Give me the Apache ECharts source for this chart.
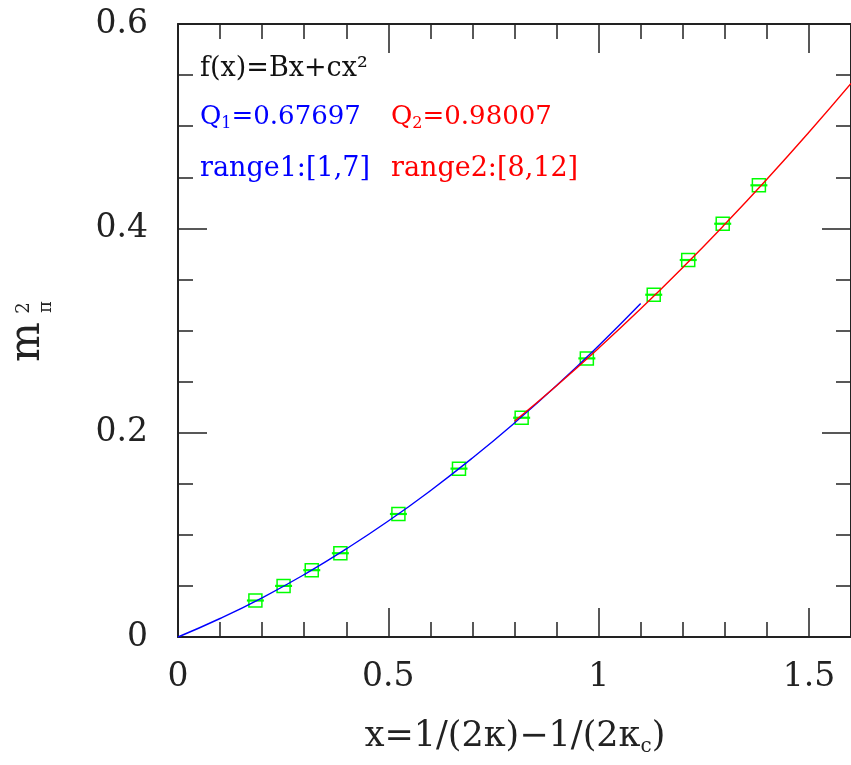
<!DOCTYPE html>
<html>
<head>
<meta charset="utf-8">
<script src="https://cdn.jsdelivr.net/npm/echarts@6/dist/echarts.min.js"></script>
<style>
  html, body { margin: 0; padding: 0; background: #fff; }
  #main { width: 851px; height: 765px; }
</style>
</head>
<body>
<div id="main"></div>
<script>
// measured points (x = 1/(2k) - 1/(2kc), y = m_pi^2)
const pointX = [0.184, 0.251, 0.318, 0.386, 0.524, 0.668, 0.817, 0.972, 1.131, 1.213, 1.295, 1.381]
const pointY = [0.0357, 0.0500, 0.0654, 0.0820, 0.1204, 0.1648, 0.2146, 0.2727, 0.3350, 0.3690, 0.4045, 0.4421]

// fit 1 (blue)
const fit1X = [0, 0.1, 0.2, 0.3, 0.4, 0.5, 0.6, 0.7, 0.8, 0.9, 1.0, 1.1]
const fit1Y = [0, 0.0181, 0.0384, 0.0611, 0.0862, 0.1135, 0.1432, 0.1752, 0.2095, 0.2461, 0.2851, 0.3264]

// fit 2 (red)
const fit2X = [0.8, 0.9, 1.0, 1.1, 1.2, 1.3, 1.4, 1.5, 1.6]
const fit2Y = [0.2112, 0.2460, 0.2827, 0.3212, 0.3616, 0.4039, 0.4480, 0.4940, 0.5418]

const FONT = 'DejaVu Serif'
const chart = echarts.init(document.getElementById('main'))

const frameAxis = {
  axisLine: { show: true, onZero: false, lineStyle: { color: '#222', width: 2 } },
  axisTick: { show: true, inside: true, length: 29, lineStyle: { color: '#222', width: 1.5 } },
  minorTick: { show: true, length: 15, lineStyle: { color: '#222', width: 1.5 } },
  splitLine: { show: false },
}

chart.setOption({
  animation: false,
  grid: { left: 178, top: 24, right: -4, bottom: 128 },
  xAxis: [
    {
      ...frameAxis,
      type: 'value', min: 0, max: 1.6, interval: 0.5,
      minorTick: { ...frameAxis.minorTick, splitNumber: 5 },
      axisLabel: {
        margin: 24, showMaxLabel: false,
        fontFamily: FONT, fontSize: 33, color: '#222',
      },
    },
    {
      ...frameAxis,
      type: 'value', min: 0, max: 1.6, interval: 0.5, position: 'top',
      minorTick: { ...frameAxis.minorTick, splitNumber: 5 },
      axisLabel: { show: false },
    },
  ],
  yAxis: [
    {
      ...frameAxis,
      type: 'value', min: 0, max: 0.6, interval: 0.2,
      minorTick: { ...frameAxis.minorTick, splitNumber: 4 },
      axisLabel: { margin: 30, fontFamily: FONT, fontSize: 33, color: '#222' },
    },
    {
      ...frameAxis,
      type: 'value', min: 0, max: 0.6, interval: 0.2, position: 'right',
      minorTick: { ...frameAxis.minorTick, splitNumber: 4 },
      axisLabel: { show: false },
    },
  ],
  series: [
    {
      name: 'data',
      type: 'custom',
      data: pointX.map((x, i) => [x, pointY[i]]),
      z: 2,
      renderItem(params, api) {
        const p = api.coord([api.value(0), api.value(1)])
        return {
          type: 'group',
          children: [
            {
              type: 'rect',
              shape: { x: p[0] - 6.5, y: p[1] - 6.5, width: 13, height: 13 },
              style: { fill: 'none', stroke: '#00ff00', lineWidth: 1.5 },
            },
            {
              type: 'line',
              shape: { x1: p[0] - 8.5, y1: p[1], x2: p[0] + 8.5, y2: p[1] },
              style: { stroke: '#00ff00', lineWidth: 2.2 },
            },
          ],
        }
      },
    },
    {
      name: 'fit1',
      type: 'line',
      data: fit1X.map((x, i) => [x, fit1Y[i]]),
      smooth: true, showSymbol: false, z: 3,
      lineStyle: { color: '#0000ff', width: 1.4 },
    },
    {
      name: 'fit2',
      type: 'line',
      data: fit2X.map((x, i) => [x, fit2Y[i]]),
      smooth: true, showSymbol: false, z: 4,
      lineStyle: { color: '#ff0000', width: 1.4 },
    },
  ],
  graphic: [
    {
      type: 'text', x: 200, y: 69,
      style: { text: 'f(x)=Bx+cx²', font: `27px "${FONT}"`, fill: '#111', verticalAlign: 'middle' },
    },
    {
      type: 'text', x: 200, y: 117,
      style: {
        text: '{a|Q}{s|1}{a|=0.67697}', verticalAlign: 'middle', fill: '#0000ff',
        rich: {
          a: { fontFamily: FONT, fontSize: 26, lineHeight: 30, fill: '#0000ff' },
          s: { fontFamily: FONT, fontSize: 16, lineHeight: 14, verticalAlign: 'bottom', fill: '#0000ff' },
        },
      },
    },
    {
      type: 'text', x: 391, y: 117,
      style: {
        text: '{a|Q}{s|2}{a|=0.98007}', verticalAlign: 'middle', fill: '#ff0000',
        rich: {
          a: { fontFamily: FONT, fontSize: 26, lineHeight: 30, fill: '#ff0000' },
          s: { fontFamily: FONT, fontSize: 16, lineHeight: 14, verticalAlign: 'bottom', fill: '#ff0000' },
        },
      },
    },
    {
      type: 'text', x: 200, y: 169,
      style: { text: 'range1:[1,7]', font: `27px "${FONT}"`, fill: '#0000ff', verticalAlign: 'middle' },
    },
    {
      type: 'text', x: 391, y: 169,
      style: { text: 'range2:[8,12]', font: `27px "${FONT}"`, fill: '#ff0000', verticalAlign: 'middle' },
    },
    // x axis title
    {
      type: 'text', x: 515, y: 737,
      style: {
        text: '{a|x=1/(2κ)−1/(2κ}{s|c}{a|)}', align: 'center', verticalAlign: 'middle',
        rich: {
          a: { fontFamily: FONT, fontSize: 35, lineHeight: 40, fill: '#222' },
          s: { fontFamily: FONT, fontSize: 20, lineHeight: 16, verticalAlign: 'bottom', fill: '#222' },
        },
      },
    },
    // y axis title m_pi^2
    {
      type: 'text', x: 28, y: 342, rotation: Math.PI / 2,
      style: { text: 'm', font: `42px "${FONT}"`, fill: '#222', align: 'center', verticalAlign: 'middle' },
    },
    {
      type: 'text', x: 24, y: 308, rotation: Math.PI / 2,
      style: { text: '2', font: `18px "${FONT}"`, fill: '#222', align: 'center', verticalAlign: 'middle' },
    },
    {
      type: 'text', x: 46, y: 307, rotation: Math.PI / 2,
      style: { text: 'π', font: `18px "${FONT}"`, fill: '#222', align: 'center', verticalAlign: 'middle' },
    },
  ],
})
</script>
</body>
</html>
